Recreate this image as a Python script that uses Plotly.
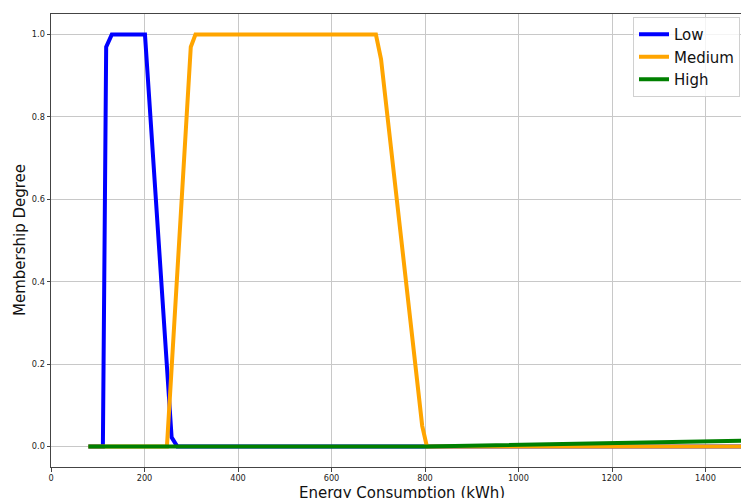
import plotly.graph_objects as go

# Sample points (kWh) and membership degrees
energy = [80, 111, 118, 130, 201, 248, 258, 270, 299, 309, 695, 706, 794, 804, 1600]
low = [0, 0, 0.97, 1.0, 1.0, 0.194, 0.022, 0, 0, 0, 0, 0, 0, 0, 0]
medium = [0, 0, 0, 0, 0, 0, 0.19, 0.42, 0.97, 1.0, 1.0, 0.94, 0.05, 0, 0]
high = [0, 0, 0, 0, 0, 0, 0, 0, 0, 0, 0, 0, 0, 0, 0.0163]

series = [("Low", low, "blue"), ("Medium", medium, "orange"), ("High", high, "green")]

x_ticks = [0, 200, 400, 600, 800, 1000, 1200, 1400]
y_ticks = [0.0, 0.2, 0.4, 0.6, 0.8, 1.0]

font = "DejaVu Sans"

fig = go.Figure()
for name, vals, color in series:
    fig.add_trace(go.Scatter(x=energy, y=vals, mode="lines", name=name,
                             line=dict(color=color, width=4)))

W, H = 741, 498
L, T, B = 51, 14, 31
plot_w = W - L
plot_h = H - T - B

fig.update_layout(
    width=W, height=H,
    margin=dict(l=L, r=0, t=T, b=B, autoexpand=False),
    plot_bgcolor="white", paper_bgcolor="white",
    font=dict(family=font, color="#222222"),
    showlegend=True,
    legend=dict(
        x=(633 - L) / plot_w, y=(H - B - 17) / plot_h,
        xanchor="left", yanchor="top",
        bgcolor="rgba(255,255,255,0.8)", bordercolor="#d0d0d0", borderwidth=1,
        font=dict(family=font, size=15, color="#111111"),
    ),
    xaxis=dict(
        range=[0, (W - L) / 0.4675], tickvals=x_ticks,
        showgrid=True, gridcolor="#c8c8c8", gridwidth=1,
        showline=True, linecolor="#444444", linewidth=1, mirror=True,
        ticks="outside", ticklen=3.5, tickcolor="#444444",
        tickfont=dict(family=font, size=8.2, color="#222222"),
        zeroline=False,
    ),
    yaxis=dict(
        range=[-0.05, 1.05], tickvals=y_ticks, tickformat=".1f",
        showgrid=True, gridcolor="#c8c8c8", gridwidth=1,
        showline=True, linecolor="#444444", linewidth=1, mirror=False,
        ticks="outside", ticklen=3.5, tickcolor="#444444",
        tickfont=dict(family=font, size=8.2, color="#222222"),
        zeroline=False,
    ),
    annotations=[
        dict(text="Energy Consumption (kWh)", xref="paper", yref="paper",
             x=(402 - L) / plot_w, y=(H - B - 493) / plot_h,
             xanchor="center", yanchor="middle", showarrow=False,
             font=dict(family=font, size=15, color="#111111")),
        dict(text="Membership Degree", xref="paper", yref="paper",
             x=(19.5 - L) / plot_w, y=0.5, textangle=-90,
             xanchor="center", yanchor="middle", showarrow=False,
             font=dict(family=font, size=15, color="#111111")),
    ],
)

fig.write_html("out.html")
